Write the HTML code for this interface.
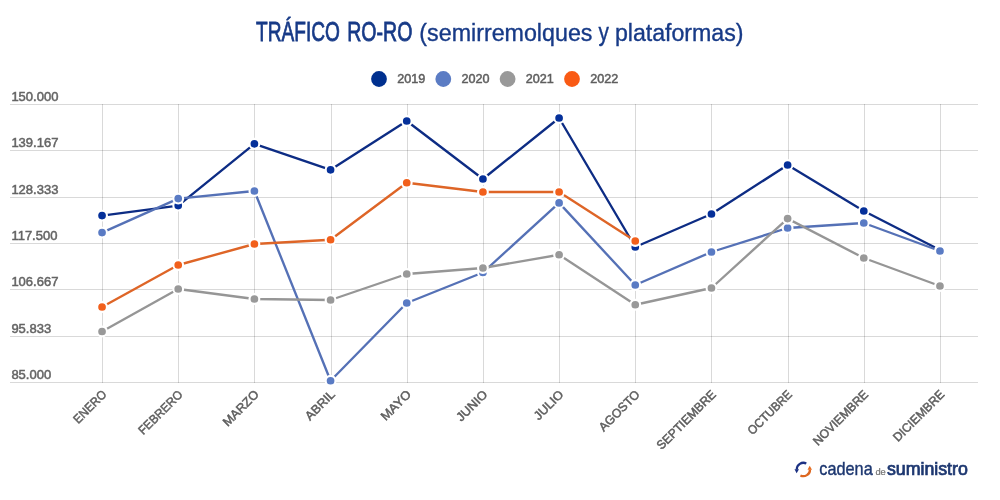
<!DOCTYPE html>
<html><head><meta charset="utf-8"><title>TRÁFICO RO-RO</title>
<style>
html,body{margin:0;padding:0;background:#fff;}
body{width:1000px;height:500px;overflow:hidden;font-family:"Liberation Sans",sans-serif;}
svg{display:block;will-change:transform;font-family:"Liberation Sans",sans-serif;}
.ax{font-size:13px;fill:#646464;stroke:#646464;stroke-width:0.5px;}
.lg{font-size:12.6px;fill:#5e5e5e;stroke:#5e5e5e;stroke-width:0.5px;}
.xl{font-size:12.3px;fill:#5e5e5e;stroke:#5e5e5e;stroke-width:0.5px;text-anchor:end;}
.g{fill:#000;fill-opacity:0.15;shape-rendering:crispEdges;}
.t{font-size:27px;fill:#173a87;stroke:#173a87;}
</style></head><body>
<svg width="1000" height="500" viewBox="0 0 1000 500">
<rect width="1000" height="500" fill="#ffffff"/>
<g transform="translate(256.10,41.4) scale(0.7076,1)"><text class="t" id="w0" x="0" y="0" stroke-width="0.8">TRÁFICO</text></g>
<g transform="translate(347.25,41.4) scale(0.7239,1)"><text class="t" id="w1" x="0" y="0" stroke-width="0.8">RO-RO</text></g>
<g transform="translate(419.34,41.4) scale(0.8615,0.92)"><text class="t" id="w2" x="0" y="0" stroke-width="0.4">(semirremolques</text></g>
<g transform="translate(598.40,41.4) scale(0.7714,0.92)"><text class="t" id="w3" x="0" y="0" stroke-width="0.4">y</text></g>
<g transform="translate(614.88,41.4) scale(0.8578,0.92)"><text class="t" id="w4" x="0" y="0" stroke-width="0.4">plataformas)</text></g>
<circle cx="379" cy="79" r="7.9" fill="#00308f"/><text class="lg" x="397.2" y="83.2">2019</text>
<circle cx="443.3" cy="79" r="7.9" fill="#5b7cc4"/><text class="lg" x="461.5" y="83.2">2020</text>
<circle cx="507.6" cy="79" r="7.9" fill="#999999"/><text class="lg" x="525.8000000000001" y="83.2">2021</text>
<circle cx="572" cy="79" r="7.9" fill="#f95a14"/><text class="lg" x="590.2" y="83.2">2022</text>
<rect class="g" x="10" y="104" width="968" height="1"/>
<rect class="g" x="10" y="150" width="968" height="1"/>
<rect class="g" x="10" y="197" width="968" height="1"/>
<rect class="g" x="10" y="243" width="968" height="1"/>
<rect class="g" x="10" y="289" width="968" height="1"/>
<rect class="g" x="10" y="336" width="968" height="1"/>
<rect class="g" x="10" y="382" width="968" height="1"/>
<rect class="g" x="102" y="104" width="1" height="279"/>
<rect class="g" x="178" y="104" width="1" height="279"/>
<rect class="g" x="254" y="104" width="1" height="279"/>
<rect class="g" x="331" y="104" width="1" height="279"/>
<rect class="g" x="407" y="104" width="1" height="279"/>
<rect class="g" x="483" y="104" width="1" height="279"/>
<rect class="g" x="559" y="104" width="1" height="279"/>
<rect class="g" x="635" y="104" width="1" height="279"/>
<rect class="g" x="711" y="104" width="1" height="279"/>
<rect class="g" x="788" y="104" width="1" height="279"/>
<rect class="g" x="864" y="104" width="1" height="279"/>
<rect class="g" x="940" y="104" width="1" height="279"/>
<text class="ax" x="11.4" y="100.80">150.000</text>
<text class="ax" x="11.4" y="146.80">139.167</text>
<text class="ax" x="11.4" y="193.80">128.333</text>
<text class="ax" x="11.4" y="239.80">117.500</text>
<text class="ax" x="11.4" y="285.80">106.667</text>
<text class="ax" x="11.4" y="332.80">95.833</text>
<text class="ax" x="11.4" y="378.80">85.000</text>
<polyline points="102.05,215.6 178.22,205.6 254.40,143.8 330.57,169.8 406.75,121 482.93,179 559.10,118 635.27,247 711.45,214 787.62,165 863.80,211 939.97,250" fill="none" stroke="#0d2c84" stroke-width="2.35" stroke-linejoin="round"/>
<circle cx="102.05" cy="215.6" r="4.9" fill="#05309a" stroke="#fff" stroke-width="2.1"/>
<circle cx="178.22" cy="205.6" r="4.9" fill="#05309a" stroke="#fff" stroke-width="2.1"/>
<circle cx="254.40" cy="143.8" r="4.9" fill="#05309a" stroke="#fff" stroke-width="2.1"/>
<circle cx="330.57" cy="169.8" r="4.9" fill="#05309a" stroke="#fff" stroke-width="2.1"/>
<circle cx="406.75" cy="121" r="4.9" fill="#05309a" stroke="#fff" stroke-width="2.1"/>
<circle cx="482.93" cy="179" r="4.9" fill="#05309a" stroke="#fff" stroke-width="2.1"/>
<circle cx="559.10" cy="118" r="4.9" fill="#05309a" stroke="#fff" stroke-width="2.1"/>
<circle cx="635.27" cy="247" r="4.9" fill="#05309a" stroke="#fff" stroke-width="2.1"/>
<circle cx="711.45" cy="214" r="4.9" fill="#05309a" stroke="#fff" stroke-width="2.1"/>
<circle cx="787.62" cy="165" r="4.9" fill="#05309a" stroke="#fff" stroke-width="2.1"/>
<circle cx="863.80" cy="211" r="4.9" fill="#05309a" stroke="#fff" stroke-width="2.1"/>
<circle cx="939.97" cy="250" r="4.9" fill="#05309a" stroke="#fff" stroke-width="2.1"/>
<polyline points="102.05,232.6 178.22,198.6 254.40,191 330.57,380.75 406.75,303 482.93,272.5 559.10,202.9 635.27,285 711.45,252 787.62,228 863.80,223 939.97,251" fill="none" stroke="#5571b6" stroke-width="2.35" stroke-linejoin="round"/>
<circle cx="102.05" cy="232.6" r="4.9" fill="#5a7bc4" stroke="#fff" stroke-width="2.1"/>
<circle cx="178.22" cy="198.6" r="4.9" fill="#5a7bc4" stroke="#fff" stroke-width="2.1"/>
<circle cx="254.40" cy="191" r="4.9" fill="#5a7bc4" stroke="#fff" stroke-width="2.1"/>
<circle cx="330.57" cy="380.75" r="4.9" fill="#5a7bc4" stroke="#fff" stroke-width="2.1"/>
<circle cx="406.75" cy="303" r="4.9" fill="#5a7bc4" stroke="#fff" stroke-width="2.1"/>
<circle cx="482.93" cy="272.5" r="4.9" fill="#5a7bc4" stroke="#fff" stroke-width="2.1"/>
<circle cx="559.10" cy="202.9" r="4.9" fill="#5a7bc4" stroke="#fff" stroke-width="2.1"/>
<circle cx="635.27" cy="285" r="4.9" fill="#5a7bc4" stroke="#fff" stroke-width="2.1"/>
<circle cx="711.45" cy="252" r="4.9" fill="#5a7bc4" stroke="#fff" stroke-width="2.1"/>
<circle cx="787.62" cy="228" r="4.9" fill="#5a7bc4" stroke="#fff" stroke-width="2.1"/>
<circle cx="863.80" cy="223" r="4.9" fill="#5a7bc4" stroke="#fff" stroke-width="2.1"/>
<circle cx="939.97" cy="251" r="4.9" fill="#5a7bc4" stroke="#fff" stroke-width="2.1"/>
<polyline points="102.05,331.5 178.22,289 254.40,299 330.57,300 406.75,274 482.93,268 559.10,254.75 635.27,304.75 711.45,288 787.62,218.6 863.80,258 939.97,286" fill="none" stroke="#969696" stroke-width="2.35" stroke-linejoin="round"/>
<circle cx="102.05" cy="331.5" r="4.9" fill="#999999" stroke="#fff" stroke-width="2.1"/>
<circle cx="178.22" cy="289" r="4.9" fill="#999999" stroke="#fff" stroke-width="2.1"/>
<circle cx="254.40" cy="299" r="4.9" fill="#999999" stroke="#fff" stroke-width="2.1"/>
<circle cx="330.57" cy="300" r="4.9" fill="#999999" stroke="#fff" stroke-width="2.1"/>
<circle cx="406.75" cy="274" r="4.9" fill="#999999" stroke="#fff" stroke-width="2.1"/>
<circle cx="482.93" cy="268" r="4.9" fill="#999999" stroke="#fff" stroke-width="2.1"/>
<circle cx="559.10" cy="254.75" r="4.9" fill="#999999" stroke="#fff" stroke-width="2.1"/>
<circle cx="635.27" cy="304.75" r="4.9" fill="#999999" stroke="#fff" stroke-width="2.1"/>
<circle cx="711.45" cy="288" r="4.9" fill="#999999" stroke="#fff" stroke-width="2.1"/>
<circle cx="787.62" cy="218.6" r="4.9" fill="#999999" stroke="#fff" stroke-width="2.1"/>
<circle cx="863.80" cy="258" r="4.9" fill="#999999" stroke="#fff" stroke-width="2.1"/>
<circle cx="939.97" cy="286" r="4.9" fill="#999999" stroke="#fff" stroke-width="2.1"/>
<polyline points="102.05,307 178.22,265 254.40,244 330.57,239.75 406.75,182.75 482.93,192 559.10,192 635.27,241" fill="none" stroke="#de6527" stroke-width="2.35" stroke-linejoin="round"/>
<circle cx="102.05" cy="307" r="4.9" fill="#f2601c" stroke="#fff" stroke-width="2.1"/>
<circle cx="178.22" cy="265" r="4.9" fill="#f2601c" stroke="#fff" stroke-width="2.1"/>
<circle cx="254.40" cy="244" r="4.9" fill="#f2601c" stroke="#fff" stroke-width="2.1"/>
<circle cx="330.57" cy="239.75" r="4.9" fill="#f2601c" stroke="#fff" stroke-width="2.1"/>
<circle cx="406.75" cy="182.75" r="4.9" fill="#f2601c" stroke="#fff" stroke-width="2.1"/>
<circle cx="482.93" cy="192" r="4.9" fill="#f2601c" stroke="#fff" stroke-width="2.1"/>
<circle cx="559.10" cy="192" r="4.9" fill="#f2601c" stroke="#fff" stroke-width="2.1"/>
<circle cx="635.27" cy="241" r="4.9" fill="#f2601c" stroke="#fff" stroke-width="2.1"/>
<g transform="translate(107.25,395.2) rotate(-45) scale(0.936,1)"><text class="xl" id="m0" x="0" y="0">ENERO</text></g>
<g transform="translate(183.42,395.2) rotate(-45) scale(0.955,1)"><text class="xl" id="m1" x="0" y="0">FEBRERO</text></g>
<g transform="translate(259.60,395.2) rotate(-45) scale(1.015,1)"><text class="xl" id="m2" x="0" y="0">MARZO</text></g>
<g transform="translate(335.77,395.2) rotate(-45) scale(1.023,1)"><text class="xl" id="m3" x="0" y="0">ABRIL</text></g>
<g transform="translate(411.95,395.2) rotate(-45) scale(1.049,1)"><text class="xl" id="m4" x="0" y="0">MAYO</text></g>
<g transform="translate(488.12,395.2) rotate(-45) scale(1.032,1)"><text class="xl" id="m5" x="0" y="0">JUNIO</text></g>
<g transform="translate(564.30,395.2) rotate(-45) scale(1.041,1)"><text class="xl" id="m6" x="0" y="0">JULIO</text></g>
<g transform="translate(640.48,395.2) rotate(-45) scale(0.995,1)"><text class="xl" id="m7" x="0" y="0">AGOSTO</text></g>
<g transform="translate(716.65,395.2) rotate(-45) scale(0.985,1)"><text class="xl" id="m8" x="0" y="0">SEPTIEMBRE</text></g>
<g transform="translate(792.82,395.2) rotate(-45) scale(0.946,1)"><text class="xl" id="m9" x="0" y="0">OCTUBRE</text></g>
<g transform="translate(869.00,395.2) rotate(-45) scale(0.98,1)"><text class="xl" id="m10" x="0" y="0">NOVIEMBRE</text></g>
<g transform="translate(945.17,395.2) rotate(-45) scale(0.976,1)"><text class="xl" id="m11" x="0" y="0">DICIEMBRE</text></g>
<g id="logo">
<path d="M806.3 463.5 A6.6 6.6 0 0 0 796.8 469.6" fill="none" stroke="#1c3183" stroke-width="2.3"/>
<path d="M794.5 469.2 L799.0 469.2 L796.6 473.3 Z" fill="#1c3183"/>
<path d="M800.4 475.4 A6.6 6.6 0 0 0 810 469.4" fill="none" stroke="#dd6720" stroke-width="2.3"/>
<path d="M807.5 469.7 L812.0 469.7 L809.7 465.7 Z" fill="#e56c22"/>
<g transform="translate(819.3,474.7) scale(0.905,1)"><text id="cad" x="0" y="0" font-size="18" fill="#1d3770" stroke="#1d3770" stroke-width="0.4">cadena</text></g>
<g transform="translate(875.4,474.7) scale(0.98,1)"><text id="de" x="0" y="0" font-size="9.5" fill="#777" stroke="#777" stroke-width="0.25">de</text></g>
<g transform="translate(886.9,474.7) scale(0.988,1)"><text id="sum" x="0" y="0" font-size="18" fill="#1d3770" stroke="#1d3770" stroke-width="0.75">suministro</text></g>
</g>
</svg></body></html>
